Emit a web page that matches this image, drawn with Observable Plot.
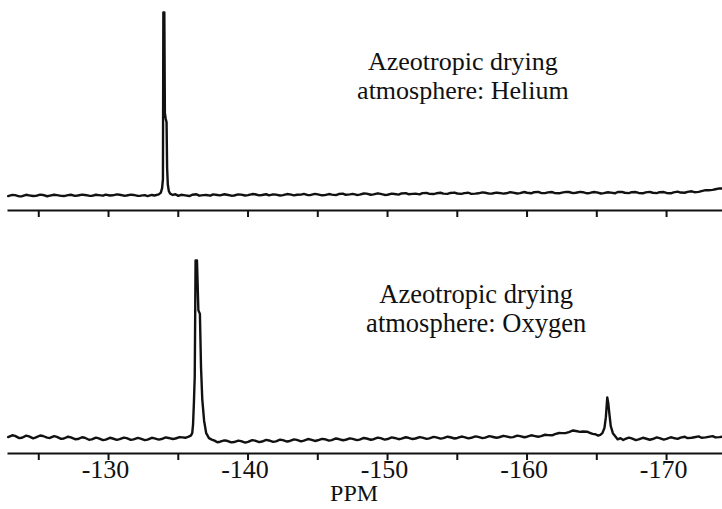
<!DOCTYPE html>
<html><head><meta charset="utf-8">
<script src="https://cdn.jsdelivr.net/npm/d3@7"></script>
<script src="https://cdn.jsdelivr.net/npm/@observablehq/plot@0.6"></script>
<style>
body{margin:0;background:#fff}
#chart{width:722px;height:509px;overflow:hidden}
#chart svg{display:block}
</style>
</head><body><div id="chart"></div>
<script>
// ---- data (ppm, intensity in arbitrary units; baseline ≈ 0, tallest peak = 100) ----
const tickValues = [-125, -130, -135, -140, -145, -150, -155, -160, -165, -170];
const labeledTicks = [-130, -140, -150, -160, -170];
const xDomain = [-122.83, -174.01];
const axisTitle = "PPM";
const topLabel = ["Azeotropic drying", "atmosphere: Helium"];
const bottomLabel = ["Azeotropic drying", "atmosphere: Oxygen"];

const topSpectrum = [
  [-122.8,-0.3],[-123.1,0.3],[-123.3,0.2],[-123.6,-0.5],[-123.8,-0.4],[-124.1,0.4],[-124.3,0.1],[-124.6,-0.3],
  [-124.8,-0.2],[-125.1,0.5],[-125.3,0.3],[-125.6,-0.4],[-125.8,-0.1],[-126.1,0.4],[-126.3,0.2],[-126.6,-0.2],
  [-126.8,-0.3],[-127.1,0.2],[-127.3,0.4],[-127.6,-0.2],[-127.8,0.0],[-128.1,0.5],[-128.3,0.3],[-128.6,-0.1],
  [-128.8,-0.2],[-129.1,0.4],[-129.3,0.2],[-129.6,-0.1],[-129.8,0.5],[-130.1,0.0],[-130.3,0.1],[-130.6,0.6],
  [-130.8,0.4],[-131.1,-0.1],[-131.3,0.0],[-131.6,0.5],[-131.8,0.3],[-132.1,-0.2],[-132.3,-0.1],[-132.6,0.2],
  [-132.8,-0.3],[-133.1,0.3],[-133.3,0.0],[-133.6,0.6],[-133.75,1.6],
  [-133.84,4],[-133.9,9],[-133.93,100],[-134.0,100],[-134.04,45],[-134.1,42],[-134.16,40],[-134.2,15],
  [-134.25,6],[-134.32,2.5],[-134.42,1],[-134.6,0.3],[-134.8,0.7],[-135.0,-0.2],[-135.2,0.4],[-135.5,0.1],
  [-135.8,-0.3],[-136.0,0.4],[-136.3,0.7],[-136.5,-0.1],[-136.8,0.2],[-137.0,0.3],[-137.3,-0.1],[-137.5,0.6],
  [-137.8,0.3],[-138.0,0.1],[-138.3,0.7],[-138.5,0.4],[-138.8,-0.1],[-139.0,0.0],[-139.3,0.6],[-139.5,0.5],
  [-139.8,0.0],[-140.0,0.2],[-140.3,0.8],[-140.5,0.7],[-140.8,0.1],[-141.0,0.3],[-141.3,0.7],[-141.5,0.1],
  [-141.8,0.6],[-142.0,0.5],[-142.3,0.0],[-142.5,0.2],[-142.8,0.8],[-143.0,0.6],[-143.3,0.1],[-143.5,0.4],
  [-143.8,0.5],[-144.0,0.9],[-144.3,0.2],[-144.5,0.3],[-144.8,0.9],[-145.0,0.6],[-145.3,0.1],[-145.5,0.2],
  [-145.8,0.8],[-146.0,0.5],[-146.3,0.2],[-146.5,0.8],[-146.8,1.0],[-147.0,0.4],[-147.3,0.6],[-147.5,0.9],
  [-147.8,0.3],[-148.0,0.5],[-148.3,1.1],[-148.5,1.0],[-148.8,0.4],[-149.0,0.6],[-149.3,1.2],[-149.5,0.9],
  [-149.8,0.3],[-150.0,0.4],[-150.3,1.0],[-150.5,0.8],[-150.8,0.5],[-151.0,1.1],[-151.3,1.3],[-151.5,0.7],
  [-151.8,0.9],[-152.0,1.0],[-152.3,0.6],[-152.5,1.3],[-152.8,1.4],[-153.0,0.9],[-153.3,0.8],[-153.5,1.2],
  [-153.8,1.5],[-154.0,1.0],[-154.3,0.9],[-154.5,1.4],[-154.8,1.6],[-155.0,1.1],[-155.3,0.9],[-155.5,1.3],
  [-155.8,1.5],[-156.0,0.9],[-156.3,1.0],[-156.5,1.2],[-156.8,1.7],[-157.0,1.5],[-157.3,1.0],[-157.5,1.1],
  [-157.8,1.6],[-158.0,1.4],[-158.3,1.0],[-158.5,1.2],[-158.8,1.8],[-159.0,1.6],[-159.3,1.1],[-159.5,1.3],
  [-159.8,1.9],[-160.0,1.5],[-160.3,1.2],[-160.5,1.8],[-160.8,2.0],[-161.0,1.4],[-161.3,1.3],[-161.5,1.7],
  [-161.8,1.9],[-162.0,1.3],[-162.3,1.2],[-162.5,1.6],[-162.8,2.0],[-163.0,1.9],[-163.3,1.3],[-163.5,1.5],
  [-163.8,2.0],[-164.0,1.8],[-164.3,1.2],[-164.5,1.4],[-164.8,1.9],[-165.0,1.7],[-165.3,1.1],[-165.5,1.3],
  [-165.8,1.8],[-166.0,1.6],[-166.3,1.2],[-166.5,1.9],[-166.8,2.0],[-167.0,1.5],[-167.3,1.3],[-167.5,1.8],
  [-167.8,1.9],[-168.0,1.4],[-168.3,1.2],[-168.5,1.7],[-168.8,2.0],[-169.0,1.5],[-169.3,1.3],[-169.5,1.8],
  [-169.8,1.9],[-170.0,1.4],[-170.3,1.2],[-170.5,1.7],[-170.8,2.1],[-171.0,1.6],[-171.3,1.5],[-171.5,2.0],
  [-171.8,2.3],[-172.0,1.8],[-172.3,2.0],[-172.5,2.4],[-172.8,2.9],[-173.0,2.9],[-173.3,3.1],[-173.5,3.4],
  [-173.8,3.9],[-174.0,3.8]
];

const bottomSpectrum = [
  [-122.8,0.8],[-123.1,1.8],[-123.3,1.5],[-123.6,0.2],[-123.8,0.4],[-124.1,1.6],[-124.3,1.2],[-124.6,0.1],
  [-124.8,0.6],[-125.1,1.7],[-125.3,1.4],[-125.6,0.5],[-125.8,0.3],[-126.1,1.3],[-126.3,0.9],[-126.6,-0.2],
  [-126.8,0.0],[-127.1,1.0],[-127.3,0.6],[-127.6,-0.4],[-127.8,-0.3],[-128.1,0.7],[-128.3,0.4],[-128.6,-0.7],
  [-128.8,-0.5],[-129.1,0.5],[-129.3,0.1],[-129.6,-0.9],[-129.8,-0.6],[-130.1,0.4],[-130.3,0.0],[-130.6,-0.8],
  [-130.8,-0.4],[-131.1,0.5],[-131.3,0.2],[-131.6,-0.8],[-131.8,-0.5],[-132.1,0.3],[-132.3,-0.1],[-132.6,-0.9],
  [-132.8,-0.6],[-133.1,0.4],[-133.3,0.1],[-133.6,-0.6],[-133.8,-0.3],[-134.1,0.6],[-134.3,0.3],[-134.6,-0.3],
  [-134.8,0.0],[-135.1,0.8],[-135.3,0.6],[-135.5,0.4],[-135.7,0.9],[-135.9,1.6],
  [-136.0,3],[-136.06,8],[-136.12,20],[-136.18,35],[-136.24,100],[-136.34,100],[-136.44,72],[-136.55,70],
  [-136.63,40],[-136.72,22],[-136.85,10],[-137.0,3],[-137.2,0.2],[-137.4,-0.6],
  [-137.6,-1.2],[-137.8,-2.1],[-138.0,-1.8],[-138.3,-1.1],[-138.5,-1.3],[-138.8,-2.2],[-139.0,-2.0],[-139.3,-1.2],
  [-139.5,-1.5],[-139.8,-2.3],[-140.0,-1.9],[-140.3,-0.9],[-140.5,-1.2],[-140.8,-2.0],[-141.0,-1.7],[-141.3,-0.8],
  [-141.5,-1.1],[-141.8,-1.9],[-142.0,-1.6],[-142.3,-0.7],[-142.5,-0.9],[-142.8,-1.7],[-143.0,-1.4],[-143.3,-0.5],
  [-143.5,-0.8],[-143.8,-1.6],[-144.0,-1.2],[-144.3,-0.3],[-144.5,-0.6],[-144.8,-1.4],[-145.0,-1.0],[-145.3,-0.2],
  [-145.5,-0.4],[-145.8,-1.2],[-146.0,-0.9],[-146.3,0.0],[-146.5,-0.3],[-146.8,-1.0],[-147.0,-0.7],[-147.3,0.1],
  [-147.5,-0.2],[-147.8,-0.9],[-148.0,-0.6],[-148.3,0.3],[-148.5,0.0],[-148.8,-0.7],[-149.0,-0.4],[-149.3,0.5],
  [-149.5,0.2],[-149.8,-0.6],[-150.0,-0.3],[-150.3,0.6],[-150.5,0.3],[-150.8,-0.4],[-151.0,-0.1],[-151.3,0.7],
  [-151.5,0.4],[-151.8,-0.3],[-152.0,0.0],[-152.3,0.8],[-152.5,0.5],[-152.8,-0.2],[-153.0,0.1],[-153.3,0.9],
  [-153.5,0.6],[-153.8,-0.1],[-154.0,0.2],[-154.3,1.0],[-154.5,0.7],[-154.8,0.0],[-155.0,0.3],[-155.3,1.1],
  [-155.5,0.8],[-155.8,0.1],[-156.0,0.4],[-156.3,1.2],[-156.5,0.9],[-156.8,0.2],[-157.0,0.5],[-157.3,1.3],
  [-157.5,1.0],[-157.8,0.4],[-158.0,0.7],[-158.3,1.5],[-158.5,1.2],[-158.8,0.6],[-159.0,0.8],[-159.3,1.6],
  [-159.5,1.3],[-159.8,0.7],[-160.0,1.0],[-160.3,1.8],[-160.5,1.5],[-160.8,1.0],[-161.0,1.3],[-161.3,2.1],
  [-161.5,1.9],[-161.8,1.8],[-162.0,2.4],[-162.3,3.1],[-162.5,3.0],[-162.8,3.1],[-163.0,3.6],[-163.3,4.5],
  [-163.5,4.2],[-163.8,3.7],[-164.0,3.9],[-164.3,3.8],[-164.5,3.2],[-164.7,2.6],[-164.9,2.4],[-165.1,1.6],
  [-165.25,2.0],[-165.4,3],[-165.55,6],[-165.65,12],[-165.75,23],[-165.82,20],[-165.9,14],[-166.0,7],
  [-166.15,3],[-166.35,1],[-166.5,-0.5],[-166.7,0.2],[-166.9,-0.8],[-167.0,-0.4],[-167.3,0.5],[-167.5,0.1],
  [-167.8,-0.9],[-168.0,-0.5],[-168.3,0.4],[-168.5,0.0],[-168.8,-0.7],[-169.0,-0.3],[-169.3,0.6],[-169.5,0.2],
  [-169.8,-0.6],[-170.0,-0.2],[-170.3,0.7],[-170.5,0.3],[-170.8,-0.2],[-171.0,0.5],[-171.3,1.0],[-171.5,0.2],
  [-171.8,0.4],[-172.0,0.7],[-172.3,1.2],[-172.5,0.4],[-172.8,0.6],[-173.0,0.9],[-173.3,1.3],[-173.5,0.6],
  [-173.8,0.8],[-174.0,1.0]
];

// ---- drawing ----
const font = "'Liberation Serif', 'Times New Roman', serif";
const ink = "#111";
const px = d => d[0], py = d => d[1];

const topPlot = Plot.plot({
  width: 722, height: 222,
  marginLeft: 8, marginRight: 0, marginTop: 0, marginBottom: 12,
  style: {fontFamily: font, background: "white", color: ink, overflow: "visible"},
  x: {domain: xDomain},
  y: {domain: [-8.2, 106.6], axis: null},
  marks: [
    Plot.frame({anchor: "bottom", stroke: ink, strokeWidth: 2}),
    Plot.axisX(tickValues, {tickSize: 7, tickFormat: () => "", stroke: ink, strokeWidth: 2, label: null}),
    Plot.line(topSpectrum, {x: px, y: py, stroke: ink, strokeWidth: 2.4, strokeLinejoin: "round"}),
    Plot.text([topLabel.join("\n")], {x: -155.4, y: 65.6, fontSize: 26, lineHeight: 1.1, fill: ink})
  ]
});

const bottomPlot = Plot.plot({
  width: 722, height: 287,
  marginLeft: 8, marginRight: 0, marginTop: 0, marginBottom: 56,
  style: {fontFamily: font, background: "white", color: ink, overflow: "visible"},
  x: {domain: xDomain},
  y: {domain: [-8.43, 121.35], axis: null},
  marks: [
    Plot.frame({anchor: "bottom", stroke: ink, strokeWidth: 2}),
    Plot.axisX(tickValues, {tickSize: 7, tickFormat: () => "", stroke: ink, strokeWidth: 2, label: null}),
    Plot.axisX(labeledTicks, {tickSize: 0, tickPadding: 6, tickFormat: d => String(d), fontSize: 26, dx: -3, fill: ink, label: null}),
    Plot.text([axisTitle], {x: -147.6, frameAnchor: "bottom", dy: 47.8, fontSize: 24, fill: ink}),
    Plot.line(bottomSpectrum, {x: px, y: py, stroke: ink, strokeWidth: 2.4, strokeLinejoin: "round"}),
    Plot.text([bottomLabel.join("\n")], {x: -156.35, y: 73, fontSize: 26.5, lineHeight: 1.1, fill: ink})
  ]
});

const chart = document.getElementById("chart");
chart.append(topPlot, bottomPlot);
</script>
</body></html>
